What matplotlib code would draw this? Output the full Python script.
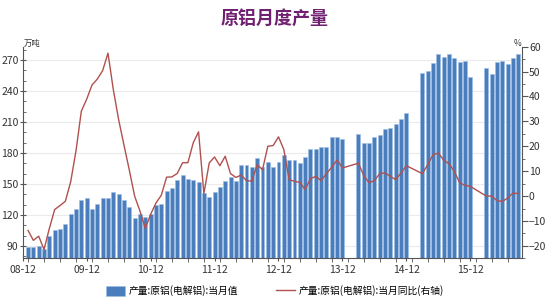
import numpy as np
import matplotlib.pyplot as plt
from matplotlib.ticker import MultipleLocator

plt.rcParams['font.family'] = ['Noto Sans CJK SC', 'DejaVu Sans']

# 月度数据 2009-01 ~ 2016-09 (None: 1、2月合并公布, 无当月值)
output = [88.5, 89, 90.3, 87, 99.3, 105, 106.4, 111.6, 120.8, 125.7,
          134.7, 136.9, 125.9, 130.8, 136.3, 136.3, 141.8, 140.5, 134.7, 127.5,
          116.9, 120.8, 117.7, 120.7, 130, 130.4, 142.8, 145.9, 154, 159,
          154.8, 154.2, 152.2, 141, 137.2, 142.2, 147.5, 153.1, 156.5, 153.3,
          168, 168.7, 166.8, 174.7, 166.5, 171.4, 166.3, 171.4, 177.7, 173.1,
          173.4, 170.5, 176.6, 184.3, 183.5, 186.1, 186.1, 195.2, 195.8, 193.6,
          None, None, 198.4, 189.7, 189.7, 195.5, 197.4, 202.9, 204.2, 208.1,
          213.2, 218.4, None, None, 257.1, 259.3, 267.4, 276.4, 272.6, 275.8,
          272.3, 268, 269, 253.2, None, None, 262.6, 256.8, 268.1, 269,
          266.1, 272.3, 275.8]
yoy = [-13.8, -17.8, -16.1, -21.5, -13, -5.4, -3.8, -2.1, 5.7, 18.2,
       34.1, 38.9, 44.6, 47, 50.4, 57.4, 42.8, 30.7, 20.5, 10.5,
       0, -6, -13, -7.4, -2.8, 0.3, 7.6, 7.7, 9.1, 13.4,
       13.4, 21.4, 25.8, 1, 13.3, 15.7, 12.2, 16, 9, 7.5,
       8.4, 6.2, 6, 12.6, 10.6, 20, 20.3, 23.8, 18.7, 6.6,
       5.9, 5.5, 2.6, 7, 7.9, 6.2, 9, 11.6, 14.5, 11.3,
       None, None, 13.2, 8.2, 5.4, 6.2, 9, 9.3, 7.9, 6.6,
       9.3, 12.2, None, None, 9, 12.6, 16.6, 17.3, 14.4, 13,
       9.9, 5.3, 4.3, 3.9, None, None, 0, 0, -1.8, -2.2,
       -0.8, 1.2, 1]
tick_labels = ['08-12', '09-12', '10-12', '11-12', '12-12', '13-12', '14-12', '15-12']

x = np.arange(len(output))
bar_x = [i for i, v in enumerate(output) if v is not None]
bar_y = [v for v in output if v is not None]
line_x = [i for i, v in enumerate(yoy) if v is not None]
line_y = [v for v in yoy if v is not None]

fig = plt.figure(figsize=(5.5, 3), dpi=100)
ax = fig.add_axes([0.0413, 0.139, 0.9078, 0.7053])
ax2 = ax.twinx()

ax.bar(bar_x, bar_y, width=0.74, color='#4a7dbb', edgecolor='#9cc0e8', linewidth=0.4, zorder=2)
ax2.plot(line_x, line_y, color='#b0504f', linewidth=1.0)

ax.set_xlim(-1, len(output) - 0.3)
ax.set_ylim(78, 283)
ax2.set_ylim(-25, 60)

ax.set_xticks(np.arange(-1, len(output), 12))
ax.set_xticklabels(tick_labels)
ax.xaxis.set_minor_locator(MultipleLocator(3))
ax.set_yticks([90, 120, 150, 180, 210, 240, 270])
ax.yaxis.set_minor_locator(MultipleLocator(10))
ax2.set_yticks([-20, -10, 0, 10, 20, 30, 40, 50, 60])
ax2.yaxis.set_minor_locator(MultipleLocator(5))

ax.grid(axis='y', color='#ebebeb', linewidth=0.8, zorder=0)
ax.set_axisbelow(True)

for a in (ax, ax2):
    a.spines['top'].set_visible(False)
    for s in a.spines.values():
        s.set_color('#555555')
        s.set_linewidth(0.8)
ax.spines['right'].set_visible(False)
ax2.spines['left'].set_visible(False)
ax2.spines['bottom'].set_visible(False)

ax.tick_params(axis='x', which='major', length=5, direction='inout', color='#555555',
               labelsize=7.5, labelcolor='#333333', pad=2)
ax.tick_params(axis='x', which='minor', length=3, direction='out', color='#555555')
ax.tick_params(axis='y', which='major', length=4, direction='inout', color='#555555',
               labelsize=7.5, labelcolor='#333333', pad=1)
ax.tick_params(axis='y', which='minor', length=2.5, direction='in', color='#555555')
ax2.tick_params(axis='y', which='major', length=4, direction='out', color='#555555',
                labelsize=7.5, labelcolor='#333333', pad=1)
ax2.tick_params(axis='y', which='minor', length=2.5, direction='out', color='#555555')

fig.text(0.5, 0.94, '原铝月度产量', ha='center', va='center', fontsize=13,
         fontweight='bold', color='#702070')
fig.text(0.043, 0.855, '万吨', ha='left', va='center', fontsize=6, color='#333333')
fig.text(0.948, 0.855, '%', ha='right', va='center', fontsize=6, color='#333333')

fig.legend(['产量:原铝(电解铝):当月值', '产量:原铝(电解铝):当月同比(右轴)'],
           loc='center', bbox_to_anchor=(0.5, 0.03), ncol=2, frameon=False,
           fontsize=7, handlelength=2.0, handleheight=1.1, columnspacing=3.8,
           handletextpad=0.4)

fig.savefig('out.png', dpi=100)
